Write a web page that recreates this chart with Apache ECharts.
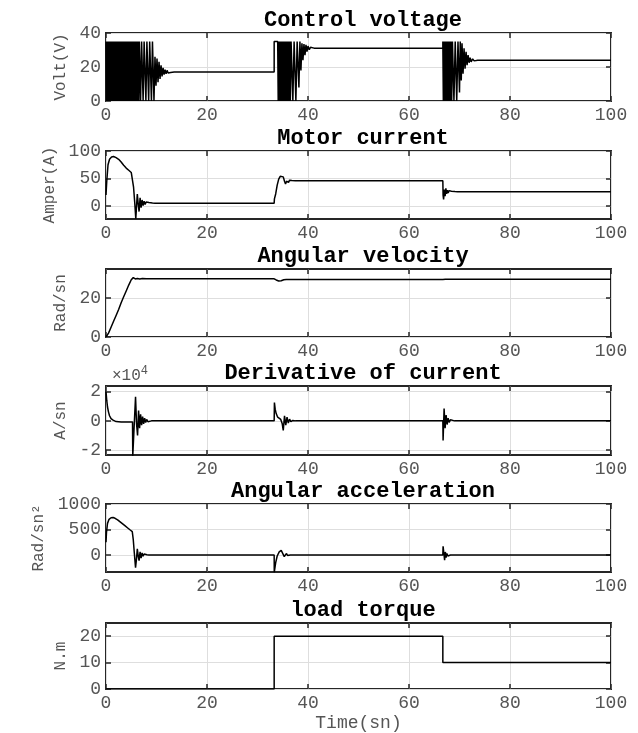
<!DOCTYPE html>
<html><head><meta charset="utf-8">
<script src="https://cdn.jsdelivr.net/npm/echarts@6.0.0/dist/echarts.min.js"></script>
<style>html,body{margin:0;padding:0;background:#fff}#c{width:638px;height:733px}</style>
</head><body><div id="c"></div>
<script>
// ---------------- data (time in sn) ----------------
const panelTitles = ['Control voltage', 'Motor current', 'Angular velocity', 'Derivative of current', 'Angular acceleration', 'load torque'];
const yAxisNames = ['Volt(V)', 'Amper(A)', 'Rad/sn', 'A/sn', 'Rad/sn\u00B2', 'N.m'];
const xTickValues = [0, 20, 40, 60, 80, 100];
const yTicksVoltage = [0, 20, 40];
const yTicksCurrent = [0, 50, 100];
const yTicksVelocity = [0, 20];
const yTicksDerivative = [-2, 0, 2];
const yTicksAccel = [0, 500, 1000];
const yTicksTorque = [0, 10, 20];

const controlVoltage = [
  [0,35],[0.1,0],[0.2,35],[0.3,0],[0.4,35],[0.5,0],[0.6,35],[0.7,0],[0.8,35],[0.9,0],[1.0,35],[1.1,0],
  [1.2,35],[1.3,0],[1.4,35],[1.5,0],[1.6,35],[1.7,0],[1.8,35],[1.9,0],[2.0,35],[2.1,0],[2.2,35],[2.3,0],
  [2.4,35],[2.5,0],[2.6,35],[2.7,0],[2.8,35],[2.9,0],[3.0,35],[3.1,0],[3.2,35],[3.3,0],[3.4,35],[3.5,0],
  [3.6,35],[3.7,0],[3.8,35],[3.9,0],[4.0,35],[4.1,0],[4.2,35],[4.3,0],[4.4,35],[4.5,0],[4.6,35],[4.7,0],
  [4.8,35],[4.9,0],[5.0,35],[5.1,0],[5.2,35],[5.3,0],[5.4,35],[5.5,0],[5.6,35],[5.7,0],[5.8,35],[5.9,0],
  [6.0,35],[6.1,0],[6.2,35],[6.3,0],[6.4,35],
  [6.5,0],[6.6,35],[6.75,35],[6.85,0],[6.95,0],[7.05,35],[7.25,35],[7.35,0],[7.45,0],[7.55,35],[7.8,35],
  [7.9,0],[8.0,0],[8.1,35],[8.35,35],[8.45,0],[8.55,0],[8.65,35],[8.9,35],[9.0,0],[9.1,0],[9.2,35],[9.4,35],
  [9.5,0],[9.7,26],[9.9,9],[10.1,25],[10.3,11],[10.5,23],[10.7,13],[10.9,21],[11.1,14.5],[11.3,19.5],[11.5,15.5],
  [11.7,18.5],[11.9,16],[12.1,18],[12.3,16.5],[12.5,17.5],[12.8,16.8],[13.1,17.2],[13.5,17],
  [33.3,17],[33.3,35],[34.0,35],[34.1,0],[34.2,35],[34.3,0],[34.4,35],[34.5,0],[34.6,35],[34.7,0],[34.8,35],
  [34.9,0],[35.0,35],[35.1,0],[35.2,35],[35.3,0],[35.4,35],[35.5,0],[35.6,35],[35.7,0],[35.8,35],[35.9,0],
  [36.0,35],[36.1,0],[36.2,35],[36.3,0],[36.4,35],[36.5,0],[36.65,35],[36.9,35],
  [37.0,0],[37.15,0],[37.25,35],[37.5,35],[37.6,0],[37.75,0],[37.85,35],[38.05,35],[38.2,8],[38.4,35],[38.6,18],
  [38.8,34],[39.0,24],[39.2,33.5],[39.4,27],[39.6,33],[39.8,29],[40.0,32.3],[40.25,30.2],[40.5,31.6],[40.8,30.7],
  [41.2,31.1],[41.6,31],[66.7,31],
  [66.7,35],[66.8,0],[66.9,35],[67.0,0],[67.1,35],[67.2,0],[67.3,35],[67.4,0],[67.5,35],[67.6,0],[67.7,35],
  [67.8,0],[67.9,35],[68.0,0],[68.1,35],[68.2,0],[68.3,35],[68.45,0],[68.6,35],[68.8,35],[68.9,0],[69.05,0],
  [69.15,35],[69.35,35],[69.45,0],[69.6,0],[69.7,35],[69.9,35],[70.0,5],[70.15,35],[70.35,12],[70.5,34],
  [70.7,16],[70.9,31],[71.1,19],[71.3,29],[71.5,21],[71.7,27],[71.9,22.5],[72.1,25.5],[72.3,23],[72.6,24.8],
  [72.9,23.6],[73.2,24.2],[73.6,24],[100,24]
];
const motorCurrent = [
  [0,20],[0.15,45],[0.4,75],[0.7,85],[1.1,89],[1.5,90],[2.0,88],[2.5,85],[3.0,80],[3.5,74],[4.0,69],[4.5,65],
  [5.0,61],[5.2,60],[5.45,35],[5.7,5],[5.9,-23],[6.05,0],[6.2,22],[6.4,2],[6.55,-10],[6.75,15],[6.95,-3],[7.15,11],
  [7.35,1],[7.55,9],[7.75,3],[7.95,7.5],[8.2,4],[8.5,6.5],[8.8,4.5],[9.2,5.5],[9.7,5],[33.3,5],[33.35,13],[33.6,22],
  [33.9,38],[34.2,49],[34.5,54],[34.8,55.5],[35.1,53],[35.35,45],[35.55,40],[35.75,45],[35.95,48],[36.15,43],
  [36.35,47],[36.55,45],[36.8,46.5],[37.1,45.5],[37.5,46],[66.7,46],[66.75,20],[66.85,12],[67.0,30],[67.15,18],
  [67.3,32],[67.45,22],[67.6,29],[67.75,24],[67.95,28],[68.15,25],[68.4,27],[68.7,25.5],[69.1,26.3],[69.6,26],[100,26]
];
const angularVelocity = [
  [0,0],[0.5,2],[1,5],[1.5,8],[2,11],[2.5,14],[3,17.5],[3.5,20.5],[4,23.5],[4.5,26.5],[5,29.2],[5.4,30.3],
  [5.8,29.6],[6.2,29.9],[6.7,29.6],[7.2,29.8],[8,29.7],[33.3,29.7],[33.7,29.1],[34.2,28.6],[34.7,28.7],[35.2,29.2],
  [35.7,29.4],[36.5,29.3],[66.7,29.3],[66.9,29.9],[67.2,29.5],[67.6,29.5],[100,29.5]
];
const currentDerivative = [ // x 10^4
  [0,2.0],[0.15,1.4],[0.3,0.95],[0.5,0.6],[0.7,0.35],[1.0,0.15],[1.4,0.05],[2.0,-0.05],[3,-0.08],[4,-0.08],
  [5.25,-0.08],[5.3,-2.4],[5.85,1.65],[6.05,-0.2],[6.25,-1.0],[6.45,0.7],[6.65,-0.5],[6.85,0.45],[7.05,-0.3],
  [7.25,0.3],[7.45,-0.2],[7.65,0.18],[7.85,-0.12],[8.05,0.1],[8.3,-0.06],[8.6,0.04],[9.0,0],[33.3,0],[33.35,1.25],
  [33.5,0.8],[33.7,0.5],[34.0,0.25],[34.3,0.15],[34.6,0.1],[34.9,-0.2],[35.1,-0.65],[35.35,0.35],[35.6,-0.3],
  [35.85,0.25],[36.1,-0.15],[36.35,0.12],[36.6,-0.06],[37.0,0.03],[37.5,0],[66.7,0],[66.75,-1.35],[66.95,0.85],
  [67.15,-0.5],[67.35,0.4],[67.55,-0.25],[67.75,0.18],[67.95,-0.1],[68.2,0.07],[68.5,-0.03],[69,0],[100,0]
];
const angularAcceleration = [
  [0,250],[0.1,450],[0.3,620],[0.6,700],[1.0,730],[1.4,735],[1.8,720],[2.3,690],[2.8,650],[3.3,610],[3.8,570],
  [4.3,530],[4.8,490],[5.2,460],[5.4,300],[5.6,50],[5.85,-250],[6.05,-60],[6.2,120],[6.4,-30],[6.55,-110],[6.75,60],
  [6.95,-60],[7.15,40],[7.35,-25],[7.55,20],[7.8,-10],[8.1,5],[8.5,0],[33.3,0],[33.32,-340],[33.6,-150],[33.9,-20],
  [34.3,60],[34.7,90],[35.0,70],[35.3,-30],[35.55,-10],[35.75,30],[35.95,-10],[36.2,10],[36.5,0],[66.7,0],[66.75,170],
  [66.9,40],[67.05,-100],[67.2,60],[67.35,-50],[67.5,30],[67.7,-20],[67.9,10],[68.2,0],[100,0]
];
const loadTorque = [[0,0],[33.3,0],[33.3,20],[66.7,20],[66.7,10],[100,10]];

// ---------------- layout ----------------
const seriesData = [controlVoltage, motorCurrent, angularVelocity, currentDerivative, angularAcceleration, loadTorque];
const yTickSets = [yTicksVoltage, yTicksCurrent, yTicksVelocity, yTicksDerivative, yTicksAccel, yTicksTorque];
const yRanges = [[0, 40], [-23.5, 100], [0, 34.7], [-2.34, 2.39], [-333, 1000], [0, 25]];
const gridTops = [33, 151, 269, 386, 504, 623];
const gridHeights = [68, 68, 68, 69, 68, 67];
const nameGaps = [30, 42, 30, 29, 58, 31];
const FONT = 'Liberation Mono';
const AX = '#262626', LBL = '#555', GRIDC = '#dedede';
const plain = v => String(v);

const grid = [], xAxis = [], yAxis = [], series = [], title = [];
for (let i = 0; i < 6; i++) {
  grid.push({left: 106, width: 505, top: gridTops[i], height: gridHeights[i], show: true, borderColor: AX, borderWidth: 2, backgroundColor: '#fff'});
  title.push({text: panelTitles[i], left: 358, top: gridTops[i] - 29, textAlign: 'center',
    textStyle: {fontFamily: FONT, fontWeight: 'bold', fontSize: 22, color: '#000'}});
  const tickX = {show: true, inside: true, length: 5, customValues: xTickValues, lineStyle: {color: AX, width: 1.5}};
  xAxis.push({gridIndex: i, type: 'value', min: 0, max: 100, interval: 20,
    axisLine: {show: false, onZero: false}, axisTick: tickX,
    axisLabel: {show: true, customValues: xTickValues, formatter: plain, fontFamily: FONT, fontSize: 18, color: LBL, margin: 5},
    splitLine: {show: true, lineStyle: {color: GRIDC, width: 1}},
    name: i === 5 ? 'Time(sn)' : '', nameLocation: 'middle', nameGap: 25,
    nameTextStyle: {fontFamily: FONT, fontSize: 18, color: LBL}});
  xAxis.push({gridIndex: i, type: 'value', position: 'top', min: 0, max: 100, interval: 20,
    axisLine: {show: false, onZero: false}, axisTick: tickX, axisLabel: {show: false}, splitLine: {show: false}});
  const tickY = {show: true, inside: true, length: 5, customValues: yTickSets[i], lineStyle: {color: AX, width: 1.5}};
  yAxis.push({gridIndex: i, type: 'value', min: yRanges[i][0], max: yRanges[i][1],
    axisLine: {show: false, onZero: false}, axisTick: tickY,
    axisLabel: {show: true, customValues: yTickSets[i], formatter: plain, fontFamily: FONT, fontSize: 18, color: LBL, margin: 5},
    splitLine: {show: true, lineStyle: {color: GRIDC, width: 1}},
    name: yAxisNames[i], nameLocation: 'middle', nameRotate: 90, nameGap: nameGaps[i],
    nameTextStyle: {fontFamily: FONT, fontSize: 16, color: LBL}});
  yAxis.push({gridIndex: i, type: 'value', position: 'right', min: yRanges[i][0], max: yRanges[i][1],
    axisLine: {show: false, onZero: false}, axisTick: tickY, axisLabel: {show: false}, splitLine: {show: false}});
  series.push({type: 'line', xAxisIndex: 2 * i, yAxisIndex: 2 * i, data: seriesData[i], showSymbol: false, symbol: 'none',
    lineStyle: {color: '#000', width: 1.5}, clip: true, animation: false, z: 3});
}
title.push({text: '\u00D710{s|4}', left: 107, top: 360,
  textStyle: {fontFamily: FONT, fontWeight: 'normal', fontSize: 16, color: LBL,
    rich: {s: {fontFamily: FONT, fontWeight: 'normal', fontSize: 12, color: LBL, padding: [0, 0, 10, 0]}}}});

const chart = echarts.init(document.getElementById('c'), null, {renderer: 'canvas'});
chart.setOption({animation: false, backgroundColor: '#fff', title, grid, xAxis, yAxis, series});
</script></body></html>
